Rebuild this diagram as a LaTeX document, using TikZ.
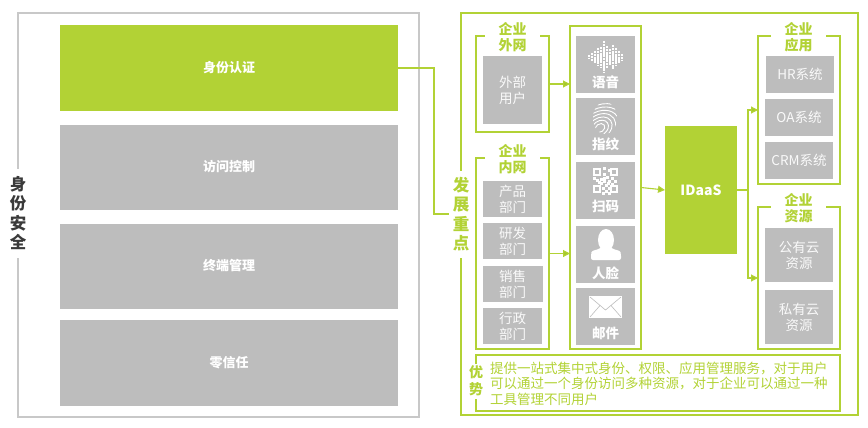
\documentclass[tikz,border=0pt]{standalone}
\usepackage{fontspec}
\setmainfont{Noto Sans CJK SC}
\usetikzlibrary{positioning,arrows.meta}
\definecolor{idgreen}{HTML}{B2D235}
\definecolor{tipgreen}{HTML}{A6C82C}
\definecolor{boxgray}{HTML}{BDBDBD}
\definecolor{linegray}{HTML}{C8C8C8}
\definecolor{darktext}{HTML}{3A3A3A}
\begin{document}
\begin{tikzpicture}[
    x=1pt, y=-1pt,
    every node/.style={inner sep=0pt, outer sep=0pt},
    bar/.style={rectangle, fill=boxgray, minimum width=338pt, minimum height=85pt, text=white, font=\fontsize{13}{16}\selectfont\bfseries},
    frame/.style={rectangle, draw=idgreen, line width=1.1pt},
    cell/.style={rectangle, fill=boxgray, text=white!92!boxgray, align=center, font=\fontsize{13.5}{16}\selectfont},
    iconbox/.style={rectangle, fill=boxgray, minimum width=59pt, minimum height=57pt},
    iconlabel/.style={text=white, font=\fontsize{13.5}{16}\selectfont\bfseries},
    head/.style={fill=white, minimum width=55pt, align=center, text=idgreen, font=\fontsize{14}{16}\selectfont\bfseries},
    side/.style={fill=white, align=center, font=\fontsize{16.5}{19.5}\selectfont\bfseries},
    link/.style={draw=idgreen, line width=1.1pt},
    arrow/.style={draw=idgreen, line width=1.1pt, -{Triangle[length=7pt,width=7pt,fill=tipgreen]}}
]
\useasboundingbox (0,0) rectangle (868,428);

% left panel
\node[rectangle, draw=linegray, line width=1.1pt, minimum width=401pt, minimum height=404pt] (leftframe) at (218.5,215) {};
\node[bar, fill=idgreen] (authbar) at (229,68) {身份认证};
\node[bar, below=14pt of authbar] (accessbar) {访问控制};
\node[bar, below=14pt of accessbar] (devicebar) {终端管理};
\node[bar, below=11pt of devicebar, minimum height=86pt] (trustbar) {零信任};
\node[side, text=darktext, minimum width=24pt, minimum height=89pt] (leftlabel) at (18,213) {身\\份\\安\\全};

% right panel
\node[frame, minimum width=397pt, minimum height=402pt] (rightframe) at (659.5,214) {};
\node[side, text=idgreen, minimum width=24pt, minimum height=87pt] (focuslabel) at (461,214) {发\\展\\重\\点};
\draw[link] (authbar.east) -- ++(36,0) |- (focuslabel.west);

% sources
\node[frame, minimum width=73pt, minimum height=96pt] (extframe) at (512.5,84) {};
\node[head] (exthead) at (512.5,37) {企业\\外网};
\node[cell, minimum width=59pt, minimum height=68pt] (extusers) at (512.5,90) {外部\\用户};
\node[frame, minimum width=73pt, minimum height=191pt] (intframe) at (512.5,253.5) {};
\node[head] (inthead) at (512.5,159) {企业\\内网};
\node[cell, minimum width=59pt, minimum height=36pt] (dept1) at (512.5,199) {产品\\部门};
\node[cell, minimum width=59pt, minimum height=36pt, below=6pt of dept1] (dept2) {研发\\部门};
\node[cell, minimum width=60pt, minimum height=36pt, below=7pt of dept2] (dept3) {销售\\部门};
\node[cell, minimum width=59pt, minimum height=36pt, below=6pt of dept3] (dept4) {行政\\部门};

% login methods
\node[frame, minimum width=71pt, minimum height=323pt] (midframe) at (605.5,187.5) {};
\node[iconbox] (voice) at (605.5,64.5) {};
\node[iconbox, below=5pt of voice] (finger) {};
\node[iconbox, below=7pt of finger] (scan) {};
\node[iconbox, below=7pt of scan] (face) {};
\node[iconbox, below=5pt of face] (mail) {};
\node[iconlabel, above=4pt of voice.south] {语音};
\node[iconlabel, above=4pt of finger.south] {指纹};
\node[iconlabel, above=6pt of scan.south] {扫码};
\node[iconlabel, above=3pt of face.south] {人脸};
\node[iconlabel, above=5pt of mail.south] {邮件};

% waveform
\foreach \wx/\wh in {589/2,592/4,595/6,598/9,601/10,604/16,607/11,610/8,613/12,616/9,619/6,622/3}
    \draw[white, line width=2.2pt, dash pattern=on 2.4pt off 0.4pt] (\wx,57-\wh) -- (\wx,57+\wh);
% fingerprint
\begin{scope}
    \clip (605,118) ellipse [x radius=12, y radius=16];
    \foreach \fr in {4,7,...,34}
        \draw[white, line width=0.9pt, rotate around={35:(600,128)}] (600,128) ellipse [x radius=\fr*1.3, y radius=\fr];
\end{scope}
% code
\foreach \qx/\qy in {597/172,614/172,597/189,614/189} {
    \draw[white, line width=1.7pt] (\qx-3.2,\qy-3.2) rectangle (\qx+3.2,\qy+3.2);
}
\foreach \qx/\qy in {604/168,609/170,604/174,607/177,601/179,604/181,609/181,612/178,615/181,597/180,599/182,606/185,603/188,609/188,606/191,603/193,609/193,604/178,608/183,601/183,612/184,594/178}
    \fill[white] (\qx-1.5,\qy-1.5) rectangle (\qx+1.5,\qy+1.5);
% person
\fill[white] (606,240) ellipse [x radius=8, y radius=11];
\fill[white, rounded corners=2pt] (591,260) -- (591,254) .. controls (592,250) and (598,250) .. (601,247) -- (611,247) .. controls (614,250) and (620,250) .. (621,254) -- (621,260) -- cycle;
% envelope
\fill[white] (589,296) rectangle (622,318);
\draw[boxgray, line width=0.6pt] (590,297) -- (605.5,310) -- (621,297) (590,317) -- (600,305.5) (621,317) -- (611,305.5);

\node[rectangle, fill=idgreen, minimum width=72pt, minimum height=128pt, text=white, font=\fontsize{14}{16}\selectfont\bfseries] (idaas) at (701,190) {IDaaS};

% targets
\node[frame, minimum width=82pt, minimum height=148pt] (appframe) at (799,110) {};
\node[head] (apphead) at (798.5,37) {企业\\应用};
\node[cell, minimum width=68pt, minimum height=37pt] (hrbox) at (800,74.5) {HR系统};
\node[cell, minimum width=68pt, minimum height=37pt, below=6pt of hrbox, xshift=-1pt] (oabox) {OA系统};
\node[cell, minimum width=68pt, minimum height=37pt, below=6pt of oabox] (crmbox) {CRM系统};
\node[frame, minimum width=82pt, minimum height=142pt] (resframe) at (799,278) {};
\node[head] (reshead) at (798.5,208) {企业\\资源};
\node[cell, minimum width=68pt, minimum height=54pt] (pubcloud) at (799,255) {公有云\\资源};
\node[cell, minimum width=68pt, minimum height=54pt, below=8pt of pubcloud] (privcloud) {私有云\\资源};

% benefits
\node[frame, minimum width=364pt, minimum height=56pt] (benefitframe) at (658,383) {};
\node[fill=white, minimum width=20pt, minimum height=35pt, align=center, text=idgreen, font=\fontsize{14}{17}\selectfont\bfseries] (benefithead) at (476,381) {优\\势};
\node[anchor=west, align=left, text=idgreen, font=\fontsize{13.5}{15.5}\selectfont] (benefittext) at (490,383.5) {提供一站式集中式身份、权限、应用管理服务，对于用户\\可以通过一个身份访问多种资源，对于企业可以通过一种\\工具管理不同用户};

\draw[arrow] (extframe.east) -- (extframe.east -| midframe.west);
\draw[arrow] (intframe.east) -- (intframe.east -| midframe.west);
\draw[arrow] (midframe.east) -- (idaas.west);
\draw[arrow] (idaas.east) -- ++(11,0) |- (appframe.west);
\draw[arrow] (idaas.east) -- ++(11,0) |- (resframe.west);
\end{tikzpicture}
\end{document}
